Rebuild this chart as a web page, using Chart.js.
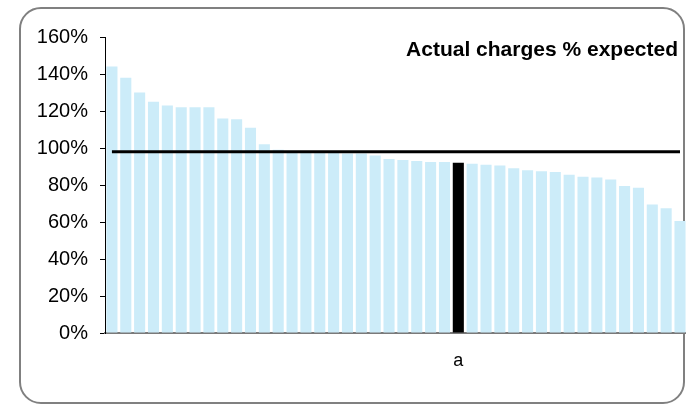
<!DOCTYPE html>
<html>
<head>
<meta charset="utf-8">
<script src="https://cdn.jsdelivr.net/npm/chart.js@4/dist/chart.umd.min.js"></script>
<style>
  html, body { margin: 0; padding: 0; background: #fff; overflow: hidden; }
  #wrap { position: relative; width: 686px; height: 405px; overflow: hidden; }
  #frame { position: absolute; left: 19px; top: 7px; width: 666px; height: 397px; box-sizing: border-box;
           border: 2px solid #808080; border-radius: 22px; }
  canvas { position: absolute; left: 0; top: 0; }
</style>
</head>
<body>
<div id="wrap">
  <div id="frame"></div>
  <canvas id="c" width="697" height="405"></canvas>
</div>
<script>
// ---- data ----
const categories = ['', '', '', '', '', '', '', '', '', '', '', '', '', '', '', '', '', '', '', '', '', '', '', '', '', 'a',
                    '', '', '', '', '', '', '', '', '', '', '', '', '', '', '', ''];
const actualPctExpected = [144, 138, 130, 125, 123, 122, 122, 122, 116, 115.5, 111, 102, 99, 98, 98, 98, 98, 97, 97, 96,
                           94, 93.5, 93, 92.5, 92.5, 92, 91.5, 91, 90.5, 89, 88, 87.5, 87, 85.5, 84.5, 84, 83, 79.5,
                           78.5, 69.5, 67.5, 60.5];
const referenceLevel = 98;
const highlightedCategory = 'a';
const yTicks = [0, 20, 40, 60, 80, 100, 120, 140, 160];
const chartTitle = 'Actual charges % expected';

const barColors = categories.map(c => c === highlightedCategory ? '#000000' : '#CCECF9');

const titlePlugin = {
  id: 'innerTitle',
  afterDraw(chart) {
    const ctx = chart.ctx;
    ctx.save();
    ctx.font = 'bold 21px "Liberation Sans", Arial, sans-serif';
    ctx.fillStyle = '#000';
    ctx.textAlign = 'right';
    ctx.textBaseline = 'alphabetic';
    ctx.fillText(chartTitle, 678, 56);
    ctx.restore();
  }
};

const chart = new Chart(document.getElementById('c'), {
  data: {
    labels: categories,
    datasets: [
      {
        type: 'line',
        data: categories.map(() => referenceLevel),
        borderColor: '#000',
        borderWidth: 3,
        pointRadius: 0,
        fill: false,
        order: 0
      },
      {
        type: 'bar',
        data: actualPctExpected,
        backgroundColor: barColors,
        borderWidth: 0,
        categoryPercentage: 1,
        barPercentage: 0.8,
        order: 1
      }
    ]
  },
  options: {
    responsive: false,
    animation: false,
    devicePixelRatio: 1,
    layout: { padding: { top: 37, right: 0, bottom: 0, left: 0 } },
    plugins: { legend: { display: false }, tooltip: { enabled: false } },
    scales: {
      x: {
        grid: { display: false, drawTicks: false },
        border: { display: true, color: '#7a7a7a', width: 2 },
        ticks: {
          autoSkip: false, maxRotation: 0, padding: 17,
          color: '#000',
          font: { family: '"Liberation Sans", Arial, sans-serif', size: 18 }
        },
        afterFit(scale) { scale.height = 72; }
      },
      y: {
        min: 0, max: 160,
        afterBuildTicks(scale) { scale.ticks = yTicks.map(v => ({ value: v })); },
        grid: { display: true, drawOnChartArea: false, drawTicks: true, tickLength: 5, color: '#000' },
        border: { display: true, color: '#000', width: 1 },
        ticks: {
          padding: 12,
          color: '#000',
          font: { family: '"Liberation Sans", Arial, sans-serif', size: 20 },
          callback: v => v + '%'
        },
        afterFit(scale) { scale.width = 105; }
      }
    }
  },
  plugins: [titlePlugin]
});
</script>
</body>
</html>
